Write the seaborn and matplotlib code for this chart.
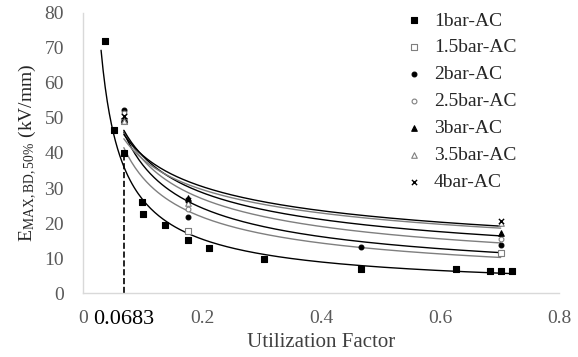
import numpy as np
import pandas as pd
import matplotlib.pyplot as plt
import seaborn as sns

# breakdown field vs utilization factor
x_1bar = [0.037, 0.052, 0.0683, 0.099, 0.101, 0.138, 0.1765, 0.212, 0.304, 0.467, 0.627, 0.684, 0.703, 0.721]
y_1bar = [72.0, 46.6, 40.0, 26.0, 22.6, 19.4, 15.1, 12.9, 9.7, 6.9, 6.9, 6.3, 6.3, 6.3]
x_three = [0.0683, 0.1765, 0.702]
y_15bar = [49.0, 17.7, 11.4]
x_2bar = [0.0683, 0.1765, 0.467, 0.702]
y_2bar = [52.3, 21.7, 13.1, 13.7]
y_25bar = [51.4, 24.0, 15.4]
y_3bar = [49.7, 27.1, 17.1]
y_35bar = [49.2, 25.7, 20.0]
y_4bar = [50.5, 26.5, 20.6]

SERIES = [
    ("1bar-AC",   x_1bar,  y_1bar,  "s", "black", "black", "black"),
    ("1.5bar-AC", x_three, y_15bar, "s", "white", "#7f7f7f", "#7f7f7f"),
    ("2bar-AC",   x_2bar,  y_2bar,  "o", "black", "black", "black"),
    ("2.5bar-AC", x_three, y_25bar, "o", "white", "#7f7f7f", "#7f7f7f"),
    ("3bar-AC",   x_three, y_3bar,  "^", "black", "black", "black"),
    ("3.5bar-AC", x_three, y_35bar, "^", "white", "#7f7f7f", "#7f7f7f"),
    ("4bar-AC",   x_three, y_4bar,  "x", "black", "black", "black"),
]
MARK_SIZE = {"s": 20, "o": 12, "^": 16, "x": 14}

sns.set_style("white")
plt.rcParams["font.family"] = ["Liberation Serif", "DejaVu Serif"]
plt.rcParams["mathtext.fontset"] = "stix"

fig, ax = plt.subplots(figsize=(5.78, 3.57), dpi=100)
fig.subplots_adjust(left=0.144, right=0.967, bottom=0.179, top=0.964)

for name, xs, ys, mk, fc, ec, lc in SERIES:
    # power trendline, fitted like Excel does (ln y vs ln x)
    b, ln_a = np.polyfit(np.log(xs), np.log(ys), 1)
    x0 = 0.030 if name == "1bar-AC" else min(xs)
    xf = np.linspace(x0, max(xs), 200)
    fit = pd.DataFrame({"x": xf, "y": np.exp(ln_a) * xf ** b})
    sns.lineplot(data=fit, x="x", y="y", ax=ax, color=lc, lw=1.0, legend=False)

    pts = pd.DataFrame({"x": xs, "y": ys})
    if mk == "x":
        sns.scatterplot(data=pts, x="x", y="y", ax=ax, marker="x", color="black",
                        s=MARK_SIZE[mk], linewidth=1.0, label=name, zorder=3)
    else:
        sns.scatterplot(data=pts, x="x", y="y", ax=ax, marker=mk, facecolor=fc,
                        edgecolor=ec, s=MARK_SIZE[mk], linewidth=0.8, label=name, zorder=3)

# dashed marker at the 0.0683 utilization factor
ax.plot([0.0683, 0.0683], [0, 40], ls="--", color="black", lw=1.2)

ax.set_xlim(0, 0.8)
ax.set_ylim(0, 80)
ax.set_yticks(range(0, 81, 10))
ax.set_xticks([0, 0.0683, 0.2, 0.4, 0.6, 0.8])
ax.set_xticklabels(["0", "0.0683", "0.2", "0.4", "0.6", "0.8"])
ax.tick_params(axis="both", length=0, labelsize=14, colors="#595959")
ax.tick_params(axis="x", pad=12)
ax.tick_params(axis="y", pad=14)
lbls = ax.get_xticklabels()
lbls[1].set_color("black")
lbls[1].set_fontsize(16)

for side in ["top", "right"]:
    ax.spines[side].set_visible(False)
for side in ["left", "bottom"]:
    ax.spines[side].set_color("#d9d9d9")
    ax.spines[side].set_linewidth(1.0)

ax.set_xlabel("Utilization Factor", fontsize=15, color="#404040", labelpad=3)
ax.set_ylabel(r"E$_{\mathregular{MAX,BD,50\%}}$ (kV/mm)", fontsize=14, color="#262626", labelpad=4)

ax.legend(loc="upper right", bbox_to_anchor=(0.935, 1.045), frameon=False, fontsize=14,
          handletextpad=0.0, labelspacing=0.48, borderaxespad=0.2, markerscale=1.0)

plt.savefig("out.png", dpi=100)
plt.close()
